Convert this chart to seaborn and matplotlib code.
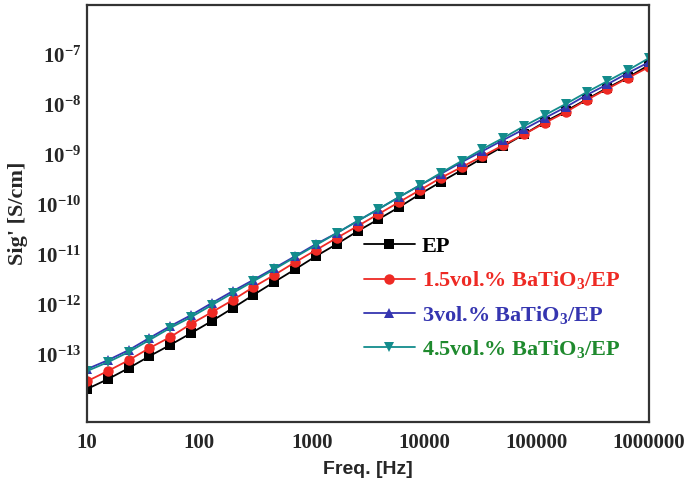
import numpy as np
import pandas as pd
import matplotlib
matplotlib.use('Agg')
import matplotlib.pyplot as plt
import seaborn as sns
from matplotlib.ticker import FixedLocator, LogLocator, NullFormatter, LogFormatterMathtext, FixedFormatter

# Frequency points (Hz)
freq = [10, 15.3, 23.5, 35.9, 55.1, 84.3, 129, 198, 303, 464, 711, 1089, 1668, 2555,
        3914, 5995, 9183, 14067, 21544, 33003, 50551, 77426, 118600, 181700, 278300,
        426300, 652900, 1000000]

# Sig' (S/cm) for each sample
sig_ep = [2.1e-14, 3.3e-14, 5.5e-14, 9.5e-14, 1.6e-13, 2.75e-13, 4.8e-13, 8.7e-13, 1.6e-12,
          2.9e-12, 5.2e-12, 9.5e-12, 1.66e-11, 3.0e-11, 5.2e-11, 9.1e-11, 1.66e-10, 2.9e-10,
          5.0e-10, 8.7e-10, 1.5e-9, 2.6e-9, 4.6e-9, 7.6e-9, 1.3e-8, 2.2e-8, 3.6e-8, 6.3e-8]
sig_15 = [3.0e-14, 4.8e-14, 7.9e-14, 1.38e-13, 2.3e-13, 4.2e-13, 7.2e-13, 1.26e-12, 2.3e-12,
          4.0e-12, 7.2e-12, 1.26e-11, 2.2e-11, 3.8e-11, 6.6e-11, 1.15e-10, 2.0e-10, 3.5e-10,
          5.75e-10, 9.5e-10, 1.58e-9, 2.6e-9, 4.4e-9, 7.2e-9, 1.26e-8, 2.1e-8, 3.5e-8, 5.75e-8]
sig_30 = [5.25e-14, 7.9e-14, 1.26e-13, 2.2e-13, 3.8e-13, 6.3e-13, 1.1e-12, 1.9e-12, 3.2e-12,
          5.5e-12, 9.5e-12, 1.66e-11, 2.75e-11, 4.8e-11, 8.3e-11, 1.45e-10, 2.5e-10, 4.2e-10,
          7.2e-10, 1.2e-9, 2.0e-9, 3.3e-9, 5.5e-9, 9.1e-9, 1.58e-8, 2.6e-8, 4.4e-8, 7.2e-8]
sig_45 = [4.8e-14, 7.2e-14, 1.15e-13, 2.0e-13, 3.5e-13, 5.75e-13, 1.0e-12, 1.74e-12, 3.0e-12,
          5.2e-12, 9.1e-12, 1.58e-11, 2.75e-11, 4.8e-11, 8.3e-11, 1.45e-10, 2.5e-10, 4.4e-10,
          7.6e-10, 1.32e-9, 2.2e-9, 3.8e-9, 6.3e-9, 1.05e-8, 1.8e-8, 3.0e-8, 5.0e-8, 8.7e-8]

labels = ['EP', '1.5vol.% BaTiO$_3$/EP', '3vol.% BaTiO$_3$/EP', '4.5vol.% BaTiO$_3$/EP']
line_colors = ['#000000', '#ee2a24', '#3535b0', '#138c8c']
text_colors = ['#000000', '#ee2a24', '#3535b0', '#1f8a2e']
marker_types = ['s', 'o', '^', 'v']

df = pd.concat([
    pd.DataFrame({'freq': freq, 'sig': s, 'sample': lab})
    for s, lab in zip([sig_ep, sig_15, sig_30, sig_45], labels)
])

sns.set_style('white')
plt.rcParams['font.family'] = ['Liberation Serif', 'DejaVu Serif']
plt.rcParams['font.weight'] = 'bold'
plt.rcParams['mathtext.fontset'] = 'custom'
plt.rcParams['mathtext.rm'] = 'Liberation Serif:bold'
plt.rcParams['mathtext.it'] = 'Liberation Serif:bold'
plt.rcParams['mathtext.bf'] = 'Liberation Serif:bold'

fig = plt.figure(figsize=(6.87, 4.98), dpi=100)
ax = fig.add_axes([0.1266, 0.1526, 0.8181, 0.8374])

sns.lineplot(data=df, x='freq', y='sig', hue='sample', style='sample',
             palette=dict(zip(labels, line_colors)), markers=dict(zip(labels, marker_types)),
             dashes=False, markersize=7.5, markeredgewidth=0, linewidth=1.3, ax=ax)

ax.set_xscale('log')
ax.set_yscale('log')
ax.set_xlim(10, 1e6)
ax.set_ylim(4.6e-15, 1e-6)

ax.xaxis.set_major_locator(FixedLocator([10, 100, 1e3, 1e4, 1e5, 1e6]))
ax.xaxis.set_major_formatter(FixedFormatter(['10', '100', '1000', '10000', '100000', '1000000']))
ax.xaxis.set_minor_locator(LogLocator(base=10, subs=np.arange(2, 10), numticks=20))
ax.xaxis.set_minor_formatter(NullFormatter())
ax.yaxis.set_major_locator(FixedLocator([1e-13, 1e-12, 1e-11, 1e-10, 1e-9, 1e-8, 1e-7]))
ax.yaxis.set_major_formatter(LogFormatterMathtext())
ax.yaxis.set_minor_locator(LogLocator(base=10, subs=np.arange(1, 10), numticks=30))
ax.yaxis.set_minor_formatter(NullFormatter())

ax.tick_params(axis='both', which='both', direction='in', top=False, right=False,
               color='#222222', width=1.2)
ax.tick_params(axis='both', which='major', length=6, labelsize=15)
ax.tick_params(axis='x', which='major', pad=8)
ax.tick_params(axis='y', which='major', pad=4)
ax.tick_params(axis='both', which='minor', length=3)

for sp in ax.spines.values():
    sp.set_linewidth(1.6)
    sp.set_color('#333333')

ax.set_xlabel('Freq. [Hz]', fontsize=14, fontweight='bold', family='Liberation Sans', labelpad=6)
ax.set_ylabel("Sig' [S/cm]", fontsize=16, fontweight='bold', labelpad=6)

handles, labs = ax.get_legend_handles_labels()
leg = ax.legend(handles, labs, loc='center left', bbox_to_anchor=(0.457, 0.297), frameon=False,
                fontsize=16, handlelength=2.3, handletextpad=0.3, labelspacing=0.55,
                labelcolor=text_colors)

fig.savefig('out.png', dpi=100)
